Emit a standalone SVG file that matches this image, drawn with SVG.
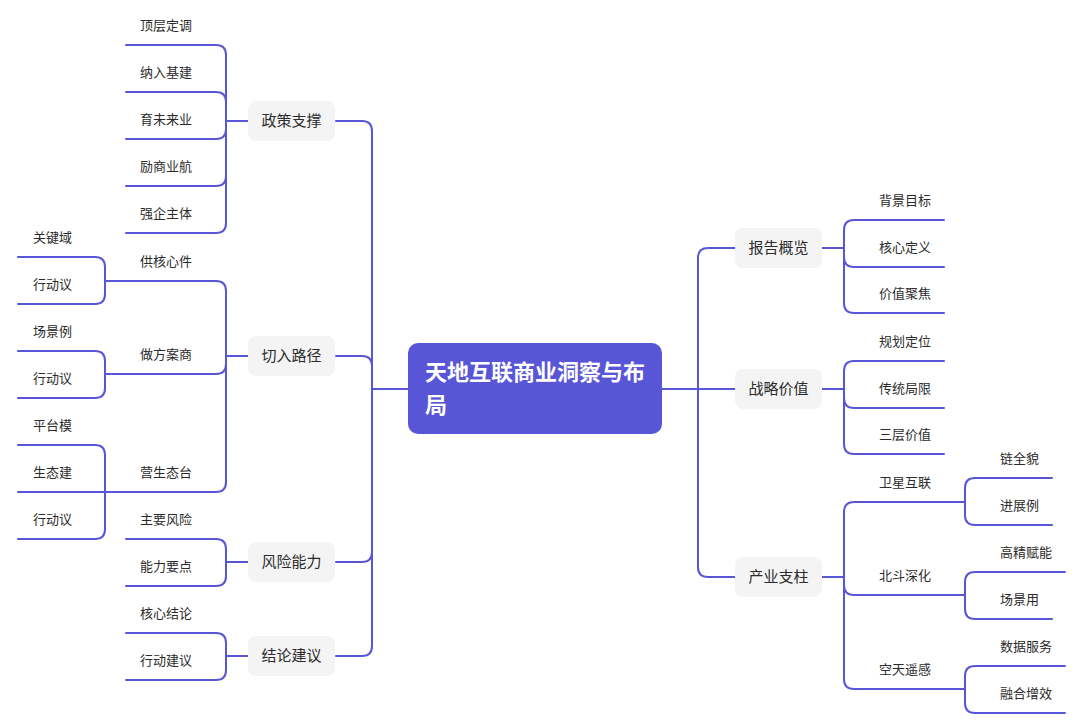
<svg xmlns="http://www.w3.org/2000/svg" width="1080" height="728" viewBox="0 0 1080 728">
<style>
.c{fill:none;stroke:#5856D6;stroke-width:2;stroke-linecap:round;stroke-linejoin:round}
.t{font-family:"Noto Sans CJK SC","Noto Sans",sans-serif;fill:#2b2b2b}
.l2{font-size:13px}
.l1{font-size:15px;text-anchor:middle}
.n1{fill:#f4f4f5}
.root{fill:#5856D6}
.rt{font-family:"Noto Sans CJK SC","Noto Sans",sans-serif;font-size:22px;font-weight:bold;fill:#ffffff}
</style>
<rect width="1080" height="728" fill="#ffffff"/>
<g id="connectors">
<path class="c" d="M408,389 H372"/>
<path class="c" d="M372,389 V131 Q372,121 362,121 H336"/>
<path class="c" d="M372,389 V366 Q372,356 362,356 H336"/>
<path class="c" d="M372,389 V552 Q372,562 362,562 H336"/>
<path class="c" d="M372,389 V646 Q372,656 362,656 H336"/>
<path class="c" d="M662,389 H735"/>
<path class="c" d="M698,389 V258 Q698,248 708,248 H735"/>
<path class="c" d="M698,389 V567 Q698,577 708,577 H735"/>
<path class="c" d="M248,121 H226"/>
<path class="c" d="M226,121 V55 Q226,45 216,45 H126"/>
<path class="c" d="M226,121 V102 Q226,92 216,92 H126"/>
<path class="c" d="M226,121 V129 Q226,139 216,139 H126"/>
<path class="c" d="M226,121 V176 Q226,186 216,186 H126"/>
<path class="c" d="M226,121 V223 Q226,233 216,233 H126"/>
<path class="c" d="M248,356 H226"/>
<path class="c" d="M226,356 V291 Q226,281 216,281 H105"/>
<path class="c" d="M226,356 V364 Q226,374 216,374 H105"/>
<path class="c" d="M226,356 V482 Q226,492 216,492 H105"/>
<path class="c" d="M105,281 V267 Q105,257 95,257 H18"/>
<path class="c" d="M105,281 V294 Q105,304 95,304 H18"/>
<path class="c" d="M105,374 V361 Q105,351 95,351 H18"/>
<path class="c" d="M105,374 V388 Q105,398 95,398 H18"/>
<path class="c" d="M105,492 V455 Q105,445 95,445 H18"/>
<path class="c" d="M105,492 H18"/>
<path class="c" d="M105,492 V529 Q105,539 95,539 H18"/>
<path class="c" d="M248,562 H226"/>
<path class="c" d="M226,562 V549 Q226,539 216,539 H126"/>
<path class="c" d="M226,562 V576 Q226,586 216,586 H126"/>
<path class="c" d="M248,656 H226"/>
<path class="c" d="M226,656 V643 Q226,633 216,633 H126"/>
<path class="c" d="M226,656 V670 Q226,680 216,680 H126"/>
<path class="c" d="M822,248 H844"/>
<path class="c" d="M844,248 V230 Q844,220 854,220 H944"/>
<path class="c" d="M844,248 V257 Q844,267 854,267 H944"/>
<path class="c" d="M844,248 V303 Q844,313 854,313 H944"/>
<path class="c" d="M822,389 H844"/>
<path class="c" d="M844,389 V371 Q844,361 854,361 H944"/>
<path class="c" d="M844,389 V398 Q844,408 854,408 H944"/>
<path class="c" d="M844,389 V444 Q844,454 854,454 H944"/>
<path class="c" d="M822,577 H844"/>
<path class="c" d="M844,577 V512 Q844,502 854,502 H965"/>
<path class="c" d="M844,577 V585 Q844,595 854,595 H965"/>
<path class="c" d="M844,577 V679 Q844,689 854,689 H965"/>
<path class="c" d="M965,502 V488 Q965,478 975,478 H1052"/>
<path class="c" d="M965,502 V515 Q965,525 975,525 H1052"/>
<path class="c" d="M965,595 V582 Q965,572 975,572 H1065"/>
<path class="c" d="M965,595 V609 Q965,619 975,619 H1052"/>
<path class="c" d="M965,689 V676 Q965,666 975,666 H1065"/>
<path class="c" d="M965,689 V703 Q965,713 975,713 H1065"/>
</g>
<g id="root"><rect class="root" x="408" y="343" width="254" height="91" rx="10"/><text class="rt" x="425" y="380">天地互联商业洞察与布</text><text class="rt" x="425" y="413">局</text></g>
<g id="n-zhengce"><rect class="n1" x="248" y="101" width="87" height="40" rx="8"/><text class="t l1" x="291.5" y="126">政策支撑</text></g>
<g id="n-qieru"><rect class="n1" x="248" y="336" width="87" height="40" rx="8"/><text class="t l1" x="291.5" y="361">切入路径</text></g>
<g id="n-fengxian"><rect class="n1" x="248" y="542" width="87" height="40" rx="8"/><text class="t l1" x="291.5" y="567">风险能力</text></g>
<g id="n-jielun"><rect class="n1" x="248" y="636" width="87" height="40" rx="8"/><text class="t l1" x="291.5" y="661">结论建议</text></g>
<g id="n-baogao"><rect class="n1" x="735" y="228" width="87" height="40" rx="8"/><text class="t l1" x="778.5" y="253">报告概览</text></g>
<g id="n-zhanlue"><rect class="n1" x="735" y="369" width="87" height="40" rx="8"/><text class="t l1" x="778.5" y="394">战略价值</text></g>
<g id="n-chanye"><rect class="n1" x="735" y="557" width="87" height="40" rx="8"/><text class="t l1" x="778.5" y="582">产业支柱</text></g>
<g id="n-l2-left" class="t l2">
<text x="140" y="30">顶层定调</text>
<text x="140" y="77">纳入基建</text>
<text x="140" y="124">育未来业</text>
<text x="140" y="171">励商业航</text>
<text x="140" y="218">强企主体</text>
<text x="140" y="266">供核心件</text>
<text x="140" y="359">做方案商</text>
<text x="140" y="477">营生态台</text>
<text x="140" y="524">主要风险</text>
<text x="140" y="571">能力要点</text>
<text x="140" y="618">核心结论</text>
<text x="140" y="665">行动建议</text>
</g>
<g id="n-l3-left" class="t l2">
<text x="33" y="242">关键域</text>
<text x="33" y="289">行动议</text>
<text x="33" y="336">场景例</text>
<text x="33" y="383">行动议</text>
<text x="33" y="430">平台模</text>
<text x="33" y="477">生态建</text>
<text x="33" y="524">行动议</text>
</g>
<g id="n-l2-right" class="t l2">
<text x="879" y="205">背景目标</text>
<text x="879" y="252">核心定义</text>
<text x="879" y="298">价值聚焦</text>
<text x="879" y="346">规划定位</text>
<text x="879" y="393">传统局限</text>
<text x="879" y="439">三层价值</text>
<text x="879" y="487">卫星互联</text>
<text x="879" y="580">北斗深化</text>
<text x="879" y="674">空天遥感</text>
</g>
<g id="n-l3-right" class="t l2">
<text x="1000" y="463">链全貌</text>
<text x="1000" y="510">进展例</text>
<text x="1000" y="557">高精赋能</text>
<text x="1000" y="604">场景用</text>
<text x="1000" y="651">数据服务</text>
<text x="1000" y="698">融合增效</text>
</g>
</svg>
